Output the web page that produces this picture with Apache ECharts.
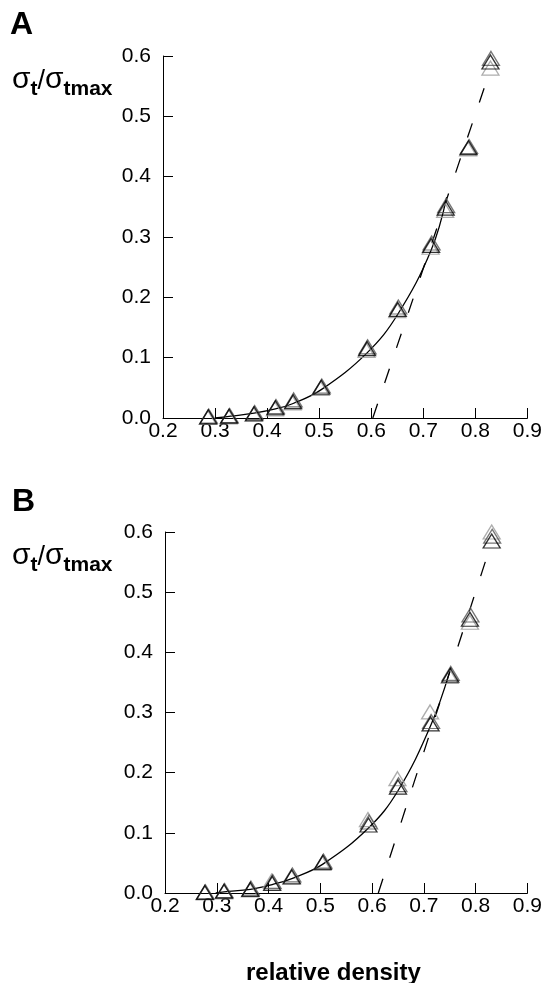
<!DOCTYPE html>
<html>
<head>
<meta charset="utf-8">
<script src="https://cdn.jsdelivr.net/npm/echarts@6/dist/echarts.min.js"></script>
<style>
  html, body { margin: 0; padding: 0; background: #fff; }
  #chart { width: 545px; height: 983px; }
</style>
</head>
<body>
<div id="chart"></div>
<script>
// tick labels
var xTickLabels = ['0.2', '0.3', '0.4', '0.5', '0.6', '0.7', '0.8', '0.9'];
var yTickLabels = ['0.0', '0.1', '0.2', '0.3', '0.4', '0.5', '0.6'];

// panel A - relative density of each measurement, three overlapping runs
var xA1 = [0.287, 0.327, 0.375, 0.416, 0.450, 0.504, 0.592, 0.651, 0.715, 0.743, 0.787, 0.829];
var yA1 = [0.002, 0.003, 0.007, 0.017, 0.027, 0.051, 0.115, 0.180, 0.286, 0.348, 0.448, 0.590];
var xA2 = [0.288, 0.328, 0.376, 0.417, 0.451, 0.505, 0.593, 0.652, 0.716, 0.744, 0.788, 0.830];
var yA2 = [0.003, 0.004, 0.009, 0.019, 0.030, 0.053, 0.118, 0.184, 0.290, 0.352, 0.450, 0.596];
var xA3 = [0.286, 0.326, 0.374, 0.415, 0.449, 0.503, 0.591, 0.650, 0.714, 0.742, 0.786, 0.829];
var yA3 = [0.001, 0.002, 0.006, 0.015, 0.025, 0.049, 0.112, 0.178, 0.283, 0.344, 0.446, 0.580];
// fitted curve (solid) and linear fit (dashed)
var fitAx = [0.300, 0.330, 0.375, 0.416, 0.450, 0.504, 0.592, 0.651, 0.715, 0.745];
var fitAy = [0.000, 0.003, 0.008, 0.015, 0.024, 0.047, 0.108, 0.172, 0.278, 0.366];
var linAx = [0.603, 0.828];
var linAy = [0.000, 0.575];

// panel B
var xB1 = [0.277, 0.314, 0.365, 0.407, 0.445, 0.505, 0.593, 0.650, 0.713, 0.751, 0.789, 0.831];
var yB1 = [0.001, 0.003, 0.006, 0.016, 0.027, 0.051, 0.113, 0.176, 0.281, 0.362, 0.455, 0.585];
var xB2 = [0.278, 0.315, 0.366, 0.408, 0.446, 0.506, 0.594, 0.651, 0.714, 0.752, 0.790, 0.832];
var yB2 = [0.002, 0.004, 0.008, 0.019, 0.030, 0.053, 0.118, 0.180, 0.285, 0.365, 0.462, 0.593];
var xB3 = [0.277, 0.314, 0.364, 0.406, 0.444, 0.504, 0.592, 0.649, 0.712, 0.750, 0.789, 0.831];
var yB3 = [0.000, 0.002, 0.005, 0.020, 0.026, 0.049, 0.122, 0.190, 0.301, 0.360, 0.450, 0.600];
var fitBx = [0.298, 0.314, 0.365, 0.407, 0.445, 0.505, 0.593, 0.650, 0.713, 0.750];
var fitBy = [0.000, 0.002, 0.006, 0.014, 0.024, 0.048, 0.108, 0.170, 0.278, 0.368];
var linBx = [0.612, 0.826];
var linBy = [0.000, 0.570];

function pairs(xs, ys) {
  var out = [];
  for (var i = 0; i < xs.length; i++) out.push([xs[i], ys[i]]);
  return out;
}

var chart = echarts.init(document.getElementById('chart'));
var font = 'Liberation Sans, Arial, sans-serif';

function xAxisOf(idx) {
  return {
    gridIndex: idx, type: 'value', min: 0.2, max: 0.9, interval: 0.1,
    axisLine: { lineStyle: { color: '#000', width: 1 } },
    axisTick: { inside: true, length: 10, lineStyle: { color: '#000' } },
    axisLabel: {
      color: '#000', fontSize: 21, fontFamily: font, margin: 3,
      formatter: function (v) { return xTickLabels[Math.round((v - 0.2) * 10)]; }
    },
    splitLine: { show: false }
  };
}
function yAxisOf(idx) {
  return {
    gridIndex: idx, type: 'value', min: 0, max: 0.6, interval: 0.1,
    axisLine: { show: true, lineStyle: { color: '#000', width: 1 } },
    axisTick: { show: true, inside: true, length: 10, lineStyle: { color: '#000' } },
    axisLabel: {
      color: '#000', fontSize: 21, fontFamily: font, margin: 12,
      formatter: function (v) { return yTickLabels[Math.round(v * 10)]; }
    },
    splitLine: { show: false }
  };
}
function tri(idx, xs, ys, col) {
  return {
    type: 'scatter', xAxisIndex: idx, yAxisIndex: idx, data: pairs(xs, ys),
    symbol: 'triangle', symbolSize: [17, 14],
    itemStyle: { color: 'rgba(0,0,0,0)', borderColor: col, borderWidth: 1.3 },
    z: 3
  };
}
function curve(idx, xs, ys, dashed) {
  return {
    type: 'line', xAxisIndex: idx, yAxisIndex: idx, data: pairs(xs, ys),
    showSymbol: false, smooth: dashed ? false : 0.4,
    lineStyle: { color: '#000', width: 1.3, type: dashed ? [15, 22] : 'solid' },
    z: 2
  };
}

function yName(top) {
  return {
    type: 'text', left: 12, top: top,
    style: {
      text: '{s|σ}{b|t}{n|/}{s|σ}{b|tmax}',
      rich: {
        s: { fontSize: 30, fontFamily: font, fill: '#000', verticalAlign: 'bottom' },
        b: { fontSize: 21, fontWeight: 'bold', fontFamily: font, fill: '#000', verticalAlign: 'bottom', padding: [0, 0, -5, 0] },
        n: { fontSize: 27, fontFamily: font, fill: '#000', verticalAlign: 'bottom' }
      }
    }
  };
}

chart.setOption({
  animation: false,
  grid: [
    { left: 163, top: 56, width: 366, height: 362 },
    { left: 165, top: 532, width: 366, height: 361 }
  ],
  xAxis: [xAxisOf(0), xAxisOf(1)],
  yAxis: [yAxisOf(0), yAxisOf(1)],
  graphic: [
    { type: 'text', left: 10, top: 9, style: { text: 'A', fontSize: 32, fontWeight: 'bold', fontFamily: font, fill: '#000' } },
    { type: 'text', left: 12, top: 486, style: { text: 'B', fontSize: 32, fontWeight: 'bold', fontFamily: font, fill: '#000' } },
    yName(65),
    yName(541),
    { type: 'text', left: 246, top: 961, style: { text: 'relative density', fontSize: 24, fontWeight: 'bold', fontFamily: font, fill: '#000' } }
  ],
  series: [
    curve(0, fitAx, fitAy, false),
    curve(0, linAx, linAy, true),
    tri(0, xA3, yA3, '#999'),
    tri(0, xA2, yA2, '#555'),
    tri(0, xA1, yA1, '#000'),
    curve(1, fitBx, fitBy, false),
    curve(1, linBx, linBy, true),
    tri(1, xB3, yB3, '#999'),
    tri(1, xB2, yB2, '#555'),
    tri(1, xB1, yB1, '#000')
  ]
});
</script>
</body>
</html>
